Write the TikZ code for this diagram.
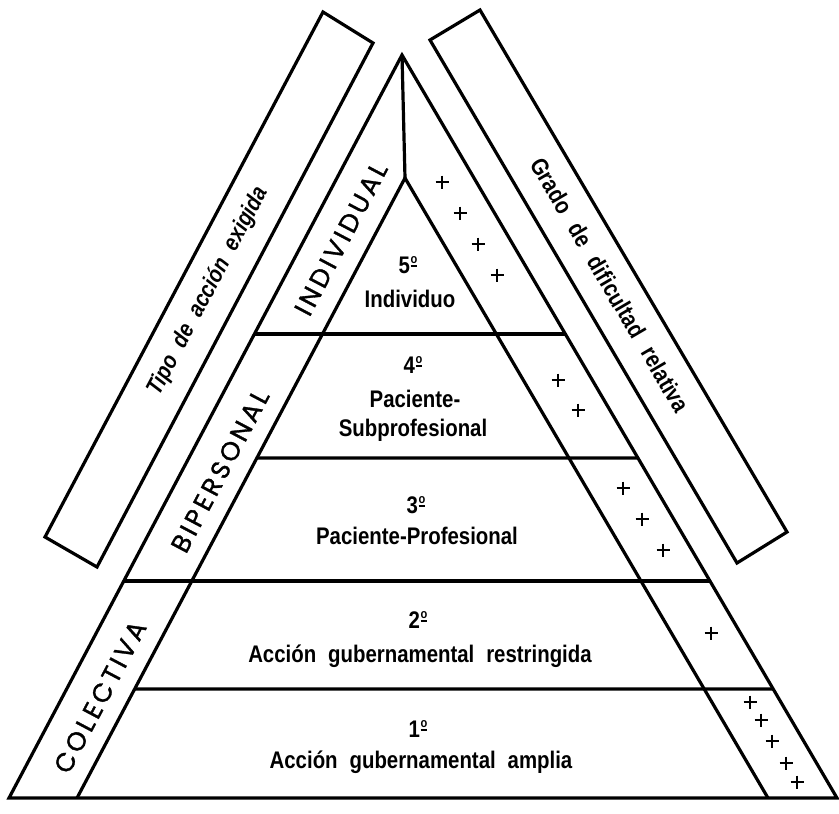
\documentclass[tikz,border=0pt]{standalone}
\usepackage{fontspec}
\setmainfont{Liberation Sans}[UprightFont={* Bold}, ItalicFont={* Bold Italic}, BoldFont={* Bold}, FakeStretch=0.85, WordSpace=2.1]
\newfontfamily\widespaced{Liberation Sans}[UprightFont={* Bold}, BoldFont={* Bold}, FakeStretch=0.85, WordSpace=2.6]
\newfontfamily\bandfont{Poppins}[LetterSpace=13, FakeBold=1.2]
\usetikzlibrary{calc}
% underlined ordinal mark set above the numeral
\newcommand{\ordo}{\kern0.6pt\raisebox{6.5pt}{\setbox0\hbox{\fontsize{13}{13}\selectfont o}\vbox{\copy0\kern1.3pt\hrule height 1.9pt width \wd0}}}

\begin{document}
\begin{tikzpicture}[x=1pt, y=-1pt, line width=3.2pt, line join=miter,
  lvl/.style={font=\fontsize{24}{28}\selectfont, inner sep=0pt, anchor=base},
  band/.style={font=\bandfont\fontsize{26}{30}\selectfont, inner sep=0pt, rotate=62.1},
  sidelbl/.style={inner sep=0pt, anchor=mid},
  plusmark/.pic={\draw[line width=2.6pt, line cap=butt] (-6.5,0) -- (6.5,0) (0,-6.5) -- (0,6.5);}]
\useasboundingbox (0,0) rectangle (839,814);

% corners of the two triangles
\coordinate (apex) at (402,55);
\coordinate (iapex) at (405,178);
\coordinate (oBL) at (9,798);
\coordinate (iBL) at (77,798);
\coordinate (iBR) at (768,798);
\coordinate (oBR) at (837,798);

% end points of the level lines on the slanted sides
\foreach \n/\y in {1/334, 2/458, 3/581, 4/689} {
  \coordinate (oL\n) at (intersection of apex--oBL and 0,\y--800,\y);
  \coordinate (iL\n) at (intersection of iapex--iBL and 0,\y--800,\y);
  \coordinate (oR\n) at (intersection of apex--oBR and 0,\y--800,\y);
}

% pyramid
\draw (oBL) -- (apex) -- (oBR) -- cycle;
\draw (iBL) -- (iapex) -- (iBR);
\draw (apex) -- (iapex);
\draw (oL1) -- (oR1);
\draw (iL2) -- (oR2);
\draw (oL3) -- (oR3);
\draw (iL4) -- (oR4);

% slanted boxes
\draw (323,12) -- (373,43) -- (97,567) -- (45,537) -- cycle;
\draw (430,40) -- (480,10) -- (787,532) -- (737,563) -- cycle;

\node[sidelbl, rotate=62.1, font=\itshape\fontsize{23.5}{27}\selectfont] (tipo) at (211,293) {Tipo de acción exigida};
\node[sidelbl, rotate=-59.6, font=\widespaced\fontsize{24}{28}\selectfont] (grado) at (605,288) {Grado de dificultad relativa};

% band labels
\node[band] (indiv) at (341,239) {INDIVIDUAL};
\node[band] (biper) at (220,471) {BIPERSONAL};
\node[band] (colec) at (100,697) {COLECTIVA};

% level texts
\node[lvl] (n5) at (408,273) {5\ordo};
\node[lvl] (t5) at (410,307) {Individuo};
\node[lvl] (n4) at (413,373) {4\ordo};
\node[lvl] (t4a) at (415,407) {Paciente-};
\node[lvl] (t4b) at (413,436) {Subprofesional};
\node[lvl] (n3) at (416,513) {3\ordo};
\node[lvl] (t3) at (417,544) {Paciente-Profesional};
\node[lvl] (n2) at (418,628) {2\ordo};
\node[lvl] (t2) at (420,662) {Acción gubernamental restringida};
\node[lvl] (n1) at (418,737) {1\ordo};
\node[lvl] (t1) at (421,768) {Acción gubernamental amplia};

% difficulty marks
\foreach \x/\y in {442/182, 460/213, 478/244, 497/275,
                   558/380, 578/410,
                   623/488, 642/519, 663/550,
                   711/633,
                   750/702, 761/720, 772/741, 786/763, 797/782}
  \pic at (\x,\y) {plusmark};
\end{tikzpicture}
\end{document}
